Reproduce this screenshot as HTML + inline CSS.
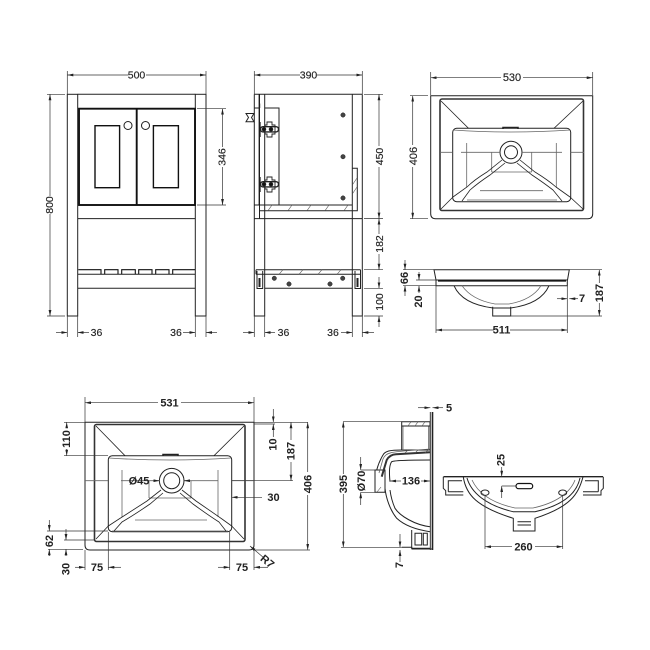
<!DOCTYPE html>
<html><head><meta charset="utf-8"><style>
html,body{margin:0;padding:0;background:#fff}
svg{display:block}
text{font-family:"Liberation Sans",sans-serif;font-size:10.5px;fill:#222;stroke:#222;stroke-width:.15;text-anchor:middle;dominant-baseline:central}
.b{font-weight:bold;font-size:11px;stroke:none}
.o{fill:none;stroke:#222;stroke-width:1}
.k{fill:none;stroke:#111;stroke-width:1.9}
.g{fill:none;stroke:#666;stroke-width:.8}
.h{fill:none;stroke:#555;stroke-width:.6}
.d line,.d path{stroke:#333;stroke-width:.7;fill:none}
.a line{marker-end:url(#m)}
</style></head><body>
<svg width="650" height="650" viewBox="0 0 650 650" xmlns="http://www.w3.org/2000/svg">
<defs><marker id="m" viewBox="0 0 10 4" refX="10" refY="2" markerWidth="6" markerHeight="2.8" markerUnits="userSpaceOnUse" orient="auto" preserveAspectRatio="none"><path d="M0 0L10 2L0 4Z" fill="#222"/></marker></defs>

<!-- FRONT VIEW -->
<g class="o">
<rect x="67.3" y="94.3" width="10.4" height="221.7"/>
<rect x="195.3" y="94.3" width="10.7" height="221.7"/>
<path d="M77.7 94.3H195.3M78 218.6H195.3M78 288.3H195.3M78 274.3H195.3"/>
<circle cx="128" cy="125.5" r="4"/><circle cx="145.5" cy="125.5" r="4"/>
</g>
<g class="k"><rect x="79" y="108.7" width="116" height="96.3"/><path d="M136.7 108.7V205"/></g>
<g class="k" style="stroke-width:1.4"><rect x="95" y="125.7" width="24.6" height="62"/><rect x="153.4" y="125.7" width="25" height="62"/>
<path d="M78.3 269.7H101V274.3M104.7 274.3V269.7H118V274.3M121.7 274.3V269.7H135.3V274.3M138.7 274.3V269.7H152V274.3M155.7 274.3V269.7H169V274.3M172.7 274.3V269.7H195" style="stroke-width:1.1"/></g>
<g class="d">
<path d="M67.3 71V94M206 71V94M47 94.3H65M47 316H65M197 108.7H226M197 205H226M67.3 316V337M77.7 316V337M195.3 316V337M206 316V337"/>
</g>
<g class="d a">
<line x1="128" y1="75" x2="67.3" y2="75"/><line x1="146" y1="75" x2="206" y2="75"/>
<line x1="50" y1="196" x2="50" y2="94.3"/><line x1="50" y1="214" x2="50" y2="316"/>
<line x1="222.5" y1="147" x2="222.5" y2="108.7"/><line x1="222.5" y1="167" x2="222.5" y2="205"/>
<line x1="56" y1="332.5" x2="67.3" y2="332.5"/><line x1="89" y1="332.5" x2="77.7" y2="332.5"/>
<line x1="183" y1="332.5" x2="195.3" y2="332.5"/><line x1="217" y1="332.5" x2="206" y2="332.5"/>
</g>
<text x="136.5" y="75.5">500</text>
<text x="50" y="205" transform="rotate(-90 50 205)">800</text>
<text x="222.5" y="157" transform="rotate(-90 222.5 157)">346</text>
<text x="96.5" y="333">36</text><text x="176" y="333">36</text>

<!-- SIDE VIEW -->
<g class="o">
<path d="M254.3 94.3H362.3M254.3 94.3V316H264.7V94.3M352.3 94.3V316H362.3V94.3"/>
<path d="M259.3 94.3V205M254.3 218.6H362.3"/>
<path d="M264.7 108H279V205M254.3 205H352.3M259 210.7H357.3V168.3H352.3"/>
<path d="M256 269.7H360.5M256 274.3H360.5M264.7 288.3H352.3M256 269.7V274.3M360.5 269.7V274.3"/>
<path d="M257 271V288.5H262.7V271M355 271V288.5H360.5V271"/>
<path d="M259.5 205V218.6"/>
</g>
<path d="M259.3 94.3V205" fill="none" stroke="#111" stroke-width="1.2"/>
<path class="h" d="M268 210.7L272 205M288 210.7L292 205M307 210.7L311 205M325 210.7L329 205M344 210.7L348 205M352.3 194L357 187M352.3 185L357 178M279 274.3L283 269.7M299 274.3L303 269.7M318 274.3L322 269.7M337 274.3L341 269.7"/>
<path d="M259.5 287V278M357.5 287V278" stroke="#222" stroke-width="2"/>
<!-- handle -->
<path fill="none" stroke="#222" stroke-width="1" d="M246 113.5H254L251.5 117.5L254 121.7H246L248.5 117.5ZM254 108H260M259.7 103.5V108"/>
<!-- hinges -->
<g class="o" style="stroke-width:.9">
<path d="M260 122V137" style="stroke-width:1.3"/>
<path d="M265 125H267V122H272V125H275V134H272V137H267V134H265Z"/>
<rect x="260.5" y="126.7" width="18" height="5.2" rx="2.5" style="stroke-width:1.4"/>
<circle cx="264" cy="129.3" r="1.8" fill="#111"/><circle cx="271" cy="129.3" r="1.8" fill="#111"/>
<path d="M260 177V192" style="stroke-width:1.3"/>
<path d="M265 180H267V177H272V180H275V189H272V192H267V189H265Z"/>
<rect x="260.5" y="181.7" width="18" height="5.2" rx="2.5" style="stroke-width:1.4"/>
<circle cx="264" cy="184.3" r="1.8" fill="#111"/><circle cx="271" cy="184.3" r="1.8" fill="#111"/>
</g>
<g fill="#444" stroke="#222" stroke-width=".5">
<circle cx="343" cy="115" r="2.2"/><circle cx="343" cy="156.7" r="2.2"/><circle cx="343" cy="198" r="2.2"/>
<circle cx="274.3" cy="278.3" r="2.2"/><circle cx="289" cy="284" r="2.2"/><circle cx="330" cy="284" r="2.2"/><circle cx="342.7" cy="278.3" r="2.2"/>
</g>
<g class="d">
<path d="M254.3 71V94M362.3 71V94M364 94.3H383M364 218.6H383M364 269.7H383M364 288.3H383M364 316H383M254.3 316V337M264.7 316V337M352.3 316V337M362.3 316V337"/>
</g>
<g class="d a">
<line x1="300" y1="75" x2="254.3" y2="75"/><line x1="317" y1="75" x2="362.3" y2="75"/>
<line x1="379" y1="146" x2="379" y2="94.3"/><line x1="379" y1="167" x2="379" y2="218.6"/>
<line x1="379" y1="234" x2="379" y2="218.6"/><line x1="379" y1="254" x2="379" y2="269.7"/>
<line x1="379" y1="277" x2="379" y2="288.3"/><line x1="379" y1="327" x2="379" y2="316"/>
<line x1="243" y1="332.5" x2="254.3" y2="332.5"/><line x1="275" y1="332.5" x2="264.7" y2="332.5"/>
<line x1="341" y1="332.5" x2="352.3" y2="332.5"/><line x1="374" y1="332.5" x2="362.3" y2="332.5"/>
</g>
<text x="308.5" y="75.5">390</text>
<text x="380" y="156.5" transform="rotate(-90 380 156.5)">450</text>
<text x="380" y="244" transform="rotate(-90 380 244)">182</text>
<text x="380" y="302" transform="rotate(-90 380 302)">100</text>
<text x="283.5" y="333">36</text><text x="333" y="333">36</text>

<!-- TOP BASIN PLAN -->
<g class="o">
<path d="M430.7 95.7H592.7V213.7Q592.7 218.7 587.7 218.7H435.7Q430.7 218.7 430.7 213.7Z"/>
<rect x="452.7" y="128.3" width="118" height="73.4" rx="4"/>
<circle cx="511" cy="152.3" r="11"/><circle cx="511" cy="152.3" r="6.5"/>
</g>
<rect x="440" y="99" width="143.5" height="111.5" rx="2" fill="none" stroke="#333" stroke-width="1.6"/>
<g class="g">
<path d="M453 130Q511 134 570 130M440 152.3H452.7M570.7 152.3H584M461 152.3H500M522 152.3H562M466.7 143V187M556.3 143V187M491.7 152V172M531.7 152V172M491.7 172H531.7M480 190.7H543M467 200H557"/>
</g>
<g class="o" style="stroke-width:.8">
<path d="M441 101L468.5 128.3M583 101L554 128.3M441 209L453 197M583 209L570 197"/>
<path d="M502 160L487 172Q474 180 467 187L453 197M520 160L535 172Q548 180 556 187L570 197M505 163L490 175Q478 183 470 190L462 201M517 163L532 175Q544 183 553 190L562 201"/>
<path d="M503 129V127.5H518V129" style="stroke-width:1.5"/>
</g>
<g class="d"><path d="M430.7 72V95M592.7 72V95M410 95.7H428M410 218.7H428"/></g>
<g class="d a">
<line x1="501" y1="77.7" x2="430.7" y2="77.7"/><line x1="523" y1="77.7" x2="592.7" y2="77.7"/>
<line x1="412.7" y1="145" x2="412.7" y2="95.7"/><line x1="412.7" y1="167" x2="412.7" y2="218.7"/>
</g>
<text x="512" y="78" style="font-size:11px">530</text>
<text x="414" y="156" transform="rotate(-90 414 156)" style="font-size:11px">406</text>

<!-- SIDE ELEVATION -->
<g class="o">
<path d="M434 269.7H569.3L567.5 280H436Z"/>
<path d="M436 280V285.7H567.3V280"/>
<path d="M454 285.7Q462 304 493 308H510.7Q541 304 549 285.7"/>
<path d="M462 285.7Q472 300 495 304H509Q532 300 541 285.7" class="g"/>
<path d="M492.7 306.7V316H510.7V306.7"/>
</g>
<path d="M438 281H566" stroke="#111" stroke-width="1.2"/>
<g class="d"><path d="M403 269.7H434M403 285.7H436M416 280H436M510.7 316H602M569.3 269.7H602M436 286V333M567.3 286V333"/></g>
<g class="d a">
<line x1="405" y1="260" x2="405" y2="269.7"/><line x1="405" y1="296" x2="405" y2="285.7"/>
<line x1="419" y1="272" x2="419" y2="280"/><line x1="419" y1="293" x2="419" y2="285.7"/>
<line x1="599.3" y1="283" x2="599.3" y2="269.7"/><line x1="599.3" y1="303" x2="599.3" y2="316"/>
<line x1="557" y1="298.7" x2="567.3" y2="298.7"/><line x1="578" y1="298.7" x2="569.3" y2="298.7"/>
<line x1="494" y1="330" x2="436" y2="330"/><line x1="510" y1="330" x2="567.3" y2="330"/>
</g>
<text x="405" y="278" class="b" transform="rotate(-90 405 278)">66</text>
<text x="419" y="301.5" class="b" transform="rotate(-90 419 301.5)">20</text>
<text x="600" y="293" class="b" transform="rotate(-90 600 293)">187</text>
<text x="582" y="299" class="b">7</text>
<text x="501.5" y="330.5" class="b">511</text>

<!-- BOTTOM LEFT PLAN -->
<g class="o">
<path d="M85 422.3H254V545Q254 550 249 550H90Q85 550 85 545Z"/>
<rect x="108.3" y="455.7" width="123.4" height="76" rx="4"/>
<circle cx="171.7" cy="480.7" r="12.3"/><circle cx="171.7" cy="480.7" r="8"/>
</g>
<rect x="94.5" y="424.5" width="150.5" height="117" rx="2" fill="none" stroke="#333" stroke-width="1.6"/>
<g class="g">
<path d="M109 458Q170 462 231 458M85 480.7H108M232 480.7H254M121 480.7H160M184 480.7H218M122 470V517M218 470V517M149 480.7V498M191 480.7V498M149 498H191M135 520H207M112 531H228"/>
</g>
<g class="o" style="stroke-width:.8">
<path d="M96 426L125 455.7M244 426L214 455.7M96 539L108.3 526M244 539L231.7 526"/>
<path d="M161 490L147 501Q130 512 119 519L108.3 526M182 490L196 501Q212 512 222 519L231.7 526M163 493L150 504Q134 515 122 522L114 531M180 493L193 504Q208 515 219 522L226 531"/>
<path d="M163 456V454.5H178V456" style="stroke-width:1.5"/>
</g>
<g class="d">
<path d="M85 397V422M254 397V422M64 422.3H85M64 455.7H108M254 422.3H308M254 424H275M232 480.7H293M254 550H310M47 531H108M64 540H94M48 549.3H83M85 550V570M108.3 532V570M229.7 532V570M254 550V570"/>
</g>
<g class="d a">
<line x1="158" y1="402.7" x2="85" y2="402.7"/><line x1="181" y1="402.7" x2="254" y2="402.7"/>
<line x1="66.7" y1="428" x2="66.7" y2="422.3"/><line x1="66.7" y1="449" x2="66.7" y2="455.7"/>
<line x1="273.3" y1="409" x2="273.3" y2="422.3"/><line x1="273.3" y1="437" x2="273.3" y2="424"/>
<line x1="291" y1="440" x2="291" y2="422.3"/><line x1="291" y1="462" x2="291" y2="480.7"/>
<line x1="307.7" y1="472" x2="307.7" y2="422.3"/><line x1="307.7" y1="495" x2="307.7" y2="550"/>
<line x1="262" y1="497.3" x2="231.7" y2="497.3"/>
<line x1="154" y1="480.7" x2="159.4" y2="480.7"/><line x1="190" y1="480.7" x2="184" y2="480.7"/>
<line x1="49.3" y1="520" x2="49.3" y2="531"/><line x1="49.3" y1="556" x2="49.3" y2="549.3"/>
<line x1="66" y1="529" x2="66" y2="540"/><line x1="66" y1="556" x2="66" y2="549.3"/>
<line x1="75" y1="567.3" x2="85" y2="567.3"/><line x1="121" y1="567.3" x2="108.3" y2="567.3"/>
<line x1="218" y1="567.3" x2="229.7" y2="567.3"/><line x1="268" y1="567.3" x2="254" y2="567.3"/>
<line x1="264" y1="558" x2="250" y2="546"/>
</g>
<text x="169.5" y="403.5" class="b">531</text>
<text x="67" y="439" class="b" transform="rotate(-90 67 439)">110</text>
<text x="273.5" y="444.5" class="b" transform="rotate(-90 273.5 444.5)">10</text>
<text x="291.5" y="451" class="b" transform="rotate(-90 291.5 451)">187</text>
<text x="308.5" y="484" class="b" transform="rotate(-90 308.5 484)">406</text>
<text x="273.5" y="498" class="b">30</text>
<text x="139" y="481.5" class="b">Ø45</text>
<text x="50" y="541" class="b" transform="rotate(-90 50 541)">62</text>
<text x="66.5" y="569" class="b" transform="rotate(-90 66.5 569)">30</text>
<text x="97" y="568" class="b">75</text>
<text x="242" y="568" class="b">75</text>
<text x="267" y="562" class="b" transform="rotate(40 267 562)">R7</text>

<!-- SECTION -->
<g class="o">
<path d="M401.7 421.7H430V450H401.7Z"/>
<path d="M403 426V450M428.5 426V450" class="g"/>
<path d="M401.7 426H430"/>
<path d="M430.3 412V550" style="stroke-width:.9"/>
<path d="M432.5 412V550" style="stroke-width:1.6"/>
<path d="M401.7 450C390 450 385 451 383 455C380 460 378 465 376.7 470H375V492.3H385V470H376.7"/>
<path d="M385 488.3C386 498 390 510 396.7 518.3C405 526 418 530 430 531.7"/>
<path d="M390 490C391 498 394 506 395 508.3C400 516 415 525 430 526.7"/>
<path d="M390 481.7C389 472 389 465 391.7 461.7C395 460 420 460 430 460"/>
<path d="M411.7 530V548.3H430M415 533.3H421.7V545H415ZM423.3 533.3H427.3V545H423.3Z"/>
<path d="M401.7 547.3H411.7L412 549H432.5"/>
</g>
<path d="M381.7 476.7L386.7 460C389 456 392 454.5 396 454.3L430 452.3" fill="none" stroke="#333" stroke-width="2"/>
<path d="M379 473L383 459C387 451 392 452 430 449" class="g"/>
<path class="h" d="M408 426L411 421.7M415 426L418 421.7M422 426L425 421.7M405 453L408 450M415 453L418 450M425 453L428 450M377 492L381 487"/>
<g class="d"><path d="M343 421.7H401.7M341 547.3H401.7M360.7 470H375M360.7 492.3H375"/></g>
<g class="d a">
<line x1="343.3" y1="474" x2="343.3" y2="421.7"/><line x1="343.3" y1="494" x2="343.3" y2="547.3"/>
<line x1="418" y1="407.7" x2="430.3" y2="407.7"/><line x1="443" y1="407.7" x2="432.5" y2="407.7"/>
<line x1="360.7" y1="457" x2="360.7" y2="470"/><line x1="360.7" y1="505" x2="360.7" y2="492.3"/>
<line x1="401" y1="481" x2="390" y2="481"/><line x1="421" y1="481" x2="430" y2="481"/>
<line x1="400" y1="534" x2="400" y2="547.3"/><line x1="400" y1="562" x2="400" y2="550"/>
</g>
<text x="449" y="408.5" class="b">5</text>
<text x="344" y="484" class="b" transform="rotate(-90 344 484)">395</text>
<text x="362" y="481" class="b" transform="rotate(-90 362 481)">Ø70</text>
<text x="411" y="481.5" class="b">136</text>
<text x="400" y="565" class="b" transform="rotate(-90 400 565)">7</text>

<!-- END VIEW -->
<g class="o">
<path d="M463.3 477C466 495 477 507 513.3 518.3V531H535V518.3C570 507 578 495 583 477"/>
<path d="M467 478C471 492 485 505 513 511.7H535C565 505 577 492 580 478"/>
<path class="g" d="M472 480C478 493 492 503 515 508H533C556 503 570 493 575 480"/>
<path d="M443.3 476.7V488.3L445.7 490.7V495H463.3M448.3 491.7V480.7H462M448.3 491.7H463.3"/>
<path d="M603.3 476.7V488.3L601 490.7V495H583M598.3 491.7V480.7H585M598.3 491.7H583"/>
<path d="M517.5 521.7H531M517.5 525H531"/>
<ellipse cx="485" cy="492.7" rx="4" ry="2.7"/><ellipse cx="562.7" cy="492.7" rx="4" ry="2.7"/>
</g>
<path d="M443.5 476.7H603" stroke="#222" stroke-width="1.4"/>
<rect x="516" y="483.5" width="16.7" height="5.2" rx="2.6" fill="none" stroke="#111" stroke-width="1.2"/>
<g class="d"><path d="M485 495V549M562.7 495V549M501.7 486H516"/></g>
<g class="d a">
<line x1="501.7" y1="467" x2="501.7" y2="476.7"/><line x1="501.7" y1="498" x2="501.7" y2="486"/>
<line x1="512" y1="546.7" x2="485" y2="546.7"/><line x1="535" y1="546.7" x2="562.7" y2="546.7"/>
</g>
<text x="501.5" y="460" class="b" transform="rotate(-90 501.5 460)">25</text>
<text x="523.5" y="547.5" class="b">260</text>
</svg>
</body></html>
